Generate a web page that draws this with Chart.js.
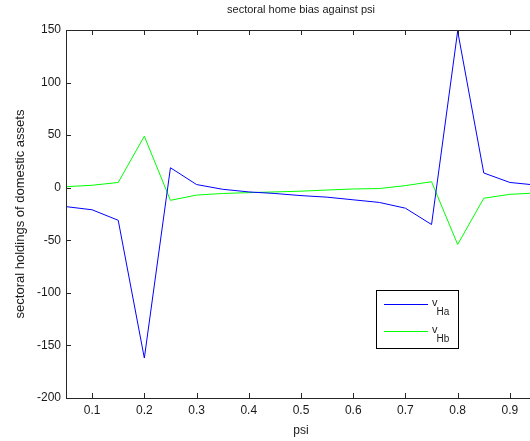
<!DOCTYPE html>
<html>
<head>
<meta charset="utf-8">
<script src="https://cdn.jsdelivr.net/npm/chart.js@4/dist/chart.umd.min.js"></script>
<style>
  html, body { margin: 0; padding: 0; background: #fff; overflow: hidden; }
  #wrap { width: 538px; height: 441px; }
</style>
</head>
<body>
<div id="wrap"><canvas id="c" width="538" height="441"></canvas></div>
<script>
// ---- data ----
const psi = [0.05, 0.10, 0.15, 0.20, 0.25, 0.30, 0.35, 0.40, 0.45, 0.50, 0.55, 0.60, 0.65, 0.70, 0.75, 0.80, 0.85, 0.90, 0.95];
const vHa = [-18, -21, -31, -162, 19, 3, -1.5, -4, -5.5, -7.5, -9, -11.5, -14, -19.5, -35, 149, 14, 5, 2.5];
const vHb = [1, 2.3, 5, 49, -12, -7, -5.5, -4.7, -4, -3.3, -2.2, -1.2, -0.8, 2, 5.7, -54, -10, -6.3, -5];
const xTicks = [0.1, 0.2, 0.3, 0.4, 0.5, 0.6, 0.7, 0.8, 0.9];
const yTicks = [-200, -150, -100, -50, 0, 50, 100, 150];
const seriesNames = [['v', 'Ha'], ['v', 'Hb']];
const seriesColors = ['#0000ff', '#00ff00'];

const FONT = 'Liberation Sans, Arial, Helvetica, sans-serif';
const AXIS_COLOR = '#262626';
const TEXT_COLOR = '#1a1a1a';

const matlabAxes = {
  id: 'matlabAxes',
  afterDraw(chart) {
    const {ctx, chartArea: a, scales} = chart;
    ctx.save();
    ctx.strokeStyle = AXIS_COLOR;
    ctx.lineWidth = 1;
    ctx.strokeRect(Math.round(a.left) + 0.5, Math.round(a.top) + 0.5,
                   Math.round(a.right - a.left), Math.round(a.bottom - a.top));
    const tl = 5;
    ctx.beginPath();
    scales.x.ticks.forEach(t => {
      const x = Math.round(scales.x.getPixelForValue(t.value)) + 0.5;
      ctx.moveTo(x, a.bottom); ctx.lineTo(x, a.bottom - tl);
      ctx.moveTo(x, a.top); ctx.lineTo(x, a.top + tl);
    });
    scales.y.ticks.forEach(t => {
      const y = Math.round(scales.y.getPixelForValue(t.value)) + 0.5;
      ctx.moveTo(a.left, y); ctx.lineTo(a.left + tl, y);
      ctx.moveTo(a.right, y); ctx.lineTo(a.right - tl, y);
    });
    ctx.stroke();

    // legend
    const bx = 376.5, by = 290.5, bw = 82, bh = 58;
    ctx.fillStyle = '#fff';
    ctx.fillRect(bx, by, bw, bh);
    ctx.strokeStyle = '#000';
    ctx.strokeRect(bx, by, bw, bh);
    const rows = [304.5, 331.5];
    rows.forEach((ry, i) => {
      ctx.strokeStyle = seriesColors[i];
      ctx.beginPath();
      ctx.moveTo(384, ry); ctx.lineTo(428, ry);
      ctx.stroke();
      ctx.fillStyle = TEXT_COLOR;
      ctx.textBaseline = 'alphabetic';
      ctx.textAlign = 'left';
      ctx.font = '11px ' + FONT;
      ctx.fillText(seriesNames[i][0], 432, ry + 1.5);
      const w = ctx.measureText(seriesNames[i][0]).width;
      ctx.font = '10px ' + FONT;
      ctx.fillText(seriesNames[i][1], 431 + w, ry + 10.5);
    });
    ctx.restore();
  }
};

new Chart(document.getElementById('c'), {
  type: 'line',
  data: {
    datasets: [
      { label: 'vHa', data: psi.map((x, i) => ({x, y: vHa[i]})), borderColor: seriesColors[0] },
      { label: 'vHb', data: psi.map((x, i) => ({x, y: vHb[i]})), borderColor: seriesColors[1] }
    ]
  },
  options: {
    responsive: false,
    animation: false,
    layout: { padding: { left: 0, right: 2, top: 0, bottom: 0 } },
    elements: {
      line: { borderWidth: 1, tension: 0, fill: false },
      point: { radius: 0 }
    },
    plugins: {
      legend: { display: false },
      tooltip: { enabled: false },
      title: {
        display: true,
        text: 'sectoral home bias against psi',
        fullSize: false,
        color: TEXT_COLOR,
        font: { family: FONT, size: 11, weight: 'normal' },
        padding: { top: 3.4, bottom: 13.4 }
      }
    },
    scales: {
      x: {
        type: 'linear',
        min: 0.05, max: 0.95,
        afterBuildTicks: s => { s.ticks = xTicks.map(v => ({value: v})); },
        afterFit: s => { s.height = 43; },
        grid: { display: false, drawTicks: false },
        border: { display: false },
        ticks: {
          color: TEXT_COLOR, padding: 5, maxRotation: 0, autoSkip: false,
          font: { family: FONT, size: 12 },
          callback: v => String(v)
        },
        title: {
          display: true, text: 'psi', color: TEXT_COLOR,
          font: { family: FONT, size: 12 },
          padding: { top: 0, bottom: 3 }
        }
      },
      y: {
        type: 'linear',
        min: -200, max: 150,
        afterBuildTicks: s => { s.ticks = yTicks.map(v => ({value: v})); },
        afterFit: s => { s.width = 66; },
        grid: { display: false, drawTicks: false },
        border: { display: false },
        ticks: {
          color: TEXT_COLOR, padding: 5, autoSkip: false,
          font: { family: FONT, size: 12 },
          callback: v => String(v)
        },
        title: {
          display: true, text: 'sectoral holdings of domestic assets', color: TEXT_COLOR,
          font: { family: FONT, size: 13 },
          padding: { top: 13, bottom: 0 }
        }
      }
    }
  },
  plugins: [matlabAxes]
});
</script>
</body>
</html>
